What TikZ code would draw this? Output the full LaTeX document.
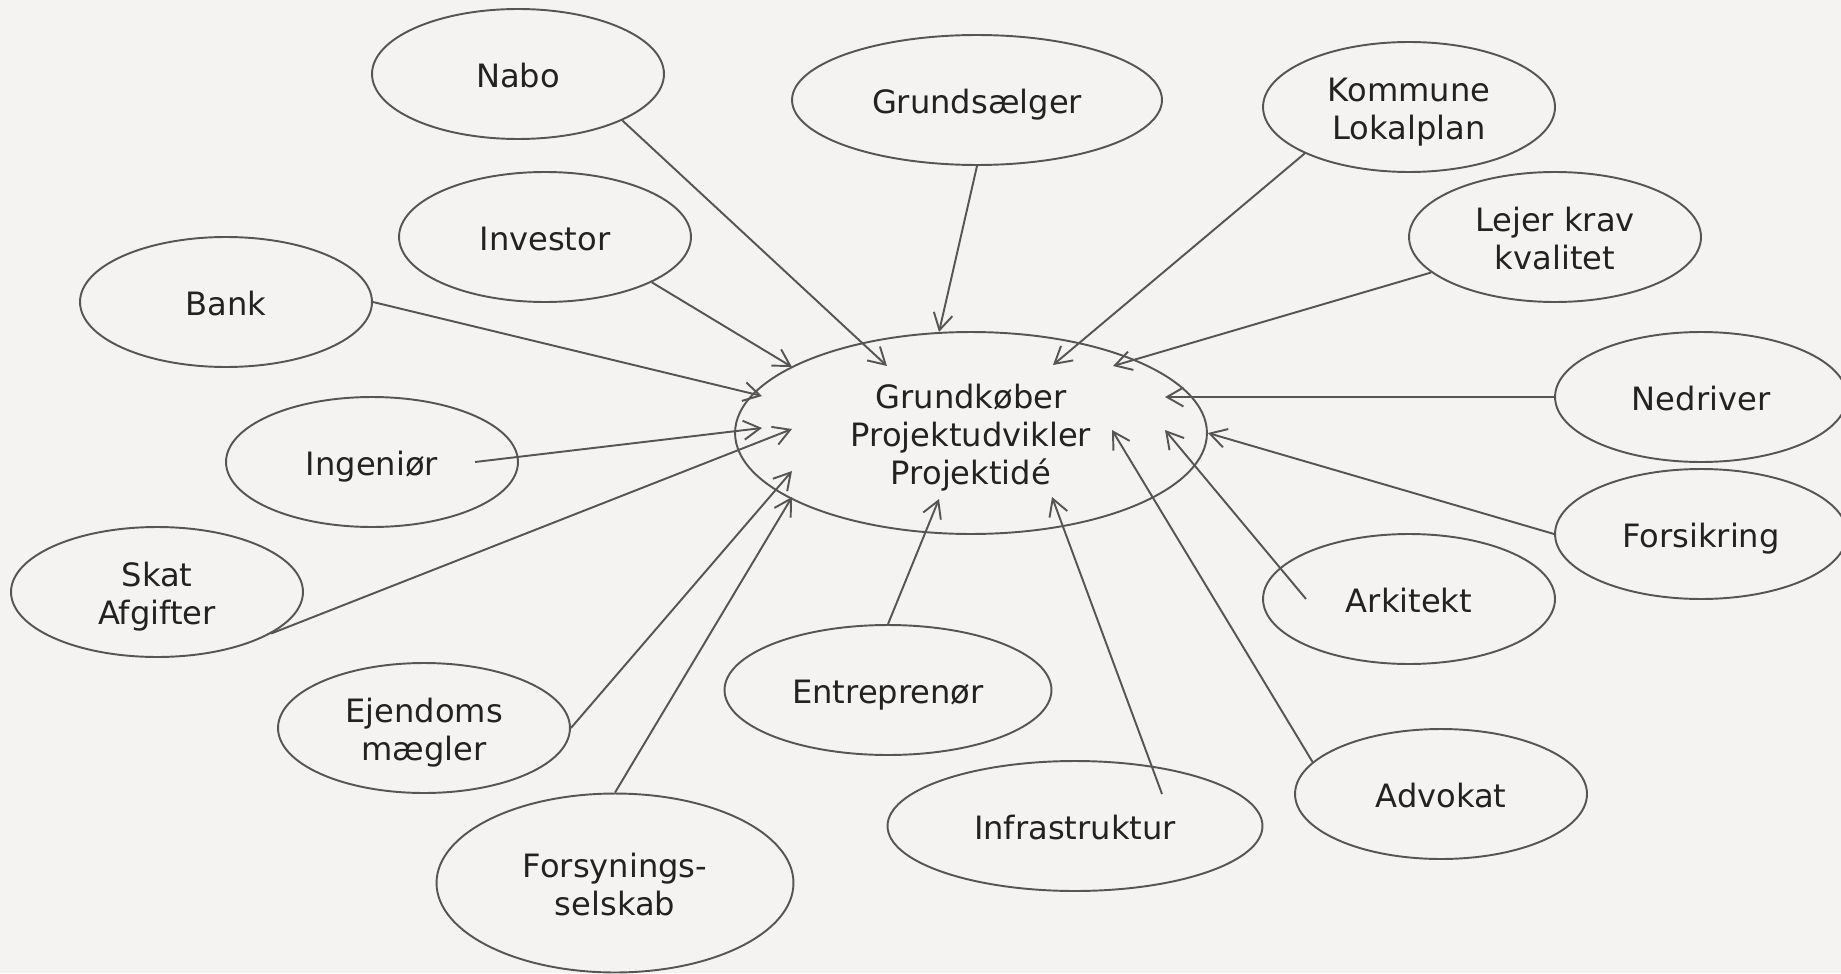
\documentclass[tikz,border=0pt]{standalone}
\usepackage{fontspec}
\setmainfont{DejaVu Sans}
\usepackage{tikz}
\usetikzlibrary{shapes.geometric, arrows.meta, calc}
\definecolor{paper}{HTML}{F4F3F1}
\definecolor{stroke}{HTML}{555555}
\definecolor{ink}{HTML}{222222}

\begin{document}
\begin{tikzpicture}[x=0.02cm, y=-0.02cm, every node/.style={font=\fontsize{18.3}{21.8}\selectfont, text=ink, text height=19.6pt, text depth=4.4pt}, align=center,
  actor/.style={draw=stroke, line width=1.1pt, ellipse, inner sep=0pt, minimum width=5.84cm, minimum height=2.6cm},
  twolines/.style={text height=41.4pt},
  threelines/.style={text height=63.2pt},
  link/.style={draw=stroke, line width=1.1pt, -{Straight Barb[length=0.33cm, width=0.38cm]}}]
  \useasboundingbox (0,0) rectangle (1841,973);
  \fill[paper] (0,0) rectangle (1841,973);

  \node (gk) [actor, threelines, minimum width=9.44cm, minimum height=4.04cm] at (971,433) {Grundkøber\\Projektudvikler\\Projektidé};
  \node (nabo) [actor] at (518,74) {Nabo};
  \node (grund) [actor, minimum width=7.4cm] at (977,100) {Grundsælger};
  \node (kommune) [actor, twolines] at (1409,107) {Kommune\\Lokalplan};
  \node (investor) [actor] at (545,237) {Investor};
  \node (lejer) [actor, twolines] at (1555,237) {Lejer krav\\kvalitet};
  \node (bank) [actor] at (226,302) {Bank};
  \node (nedriver) [actor] at (1701,397) {Nedriver};
  \node (ingenior) [actor] at (372,462) {Ingeniør};
  \node (forsikring) [actor] at (1701,534) {Forsikring};
  \node (skat) [actor, twolines] at (157,592) {Skat\\Afgifter};
  \node (arkitekt) [actor] at (1409,599) {Arkitekt};
  \node (entrepr) [actor, minimum width=6.54cm] at (888,690) {Entreprenør};
  \node (ejendom) [actor, twolines] at (424,728) {Ejendoms\\mægler};
  \node (advokat) [actor] at (1441,794) {Advokat};
  \node (infra) [actor, minimum width=7.5cm] at (1075,826) {Infrastruktur};
  \node (forsyning) [actor, twolines, minimum width=7.14cm, minimum height=3.58cm] at (615,883) {Forsynings-\\selskab};

  % upper half
  \draw [link] (nabo.-24) -- ($(gk)+(-84,-67)$);
  \draw [link] (grund.south) -- ($(gk)+(-32,-101)$);
  \draw [link] (kommune.-156) -- ($(gk)+(82,-68)$);
  \draw [link] (investor.-23) -- ($(gk)+(-179,-66)$);
  \draw [link] (lejer.196) -- ($(gk)+(142,-67)$);
  \draw [link] (bank.east) -- ($(gk)+(-209,-37)$);
  \draw [link] (nedriver.west) -- ($(gk)+(194,-36)$);
  % lower half
  \draw [link] ($(ingenior)+(103,0)$) -- ($(gk)+(-209,-5)$);
  \draw [link] (forsikring.west) -- (gk.east);
  \draw [link] (skat.-20) -- ($(gk)+(-179,-4)$);
  \draw [link] ($(arkitekt)+(-103,0)$) -- ($(gk)+(194,-3)$);
  \draw [link] (entrepr.north) -- ($(gk)+(-32,66)$);
  \draw [link] (ejendom.east) -- ($(gk)+(-179,38)$);
  \draw [link] (advokat.166) -- ($(gk)+(141,-3)$);
  \draw [link] ($(infra)+(87,-32)$) -- ($(gk)+(81,64)$);
  \draw [link] (forsyning.north) -- ($(gk)+(-179,64)$);
\end{tikzpicture}
\end{document}
